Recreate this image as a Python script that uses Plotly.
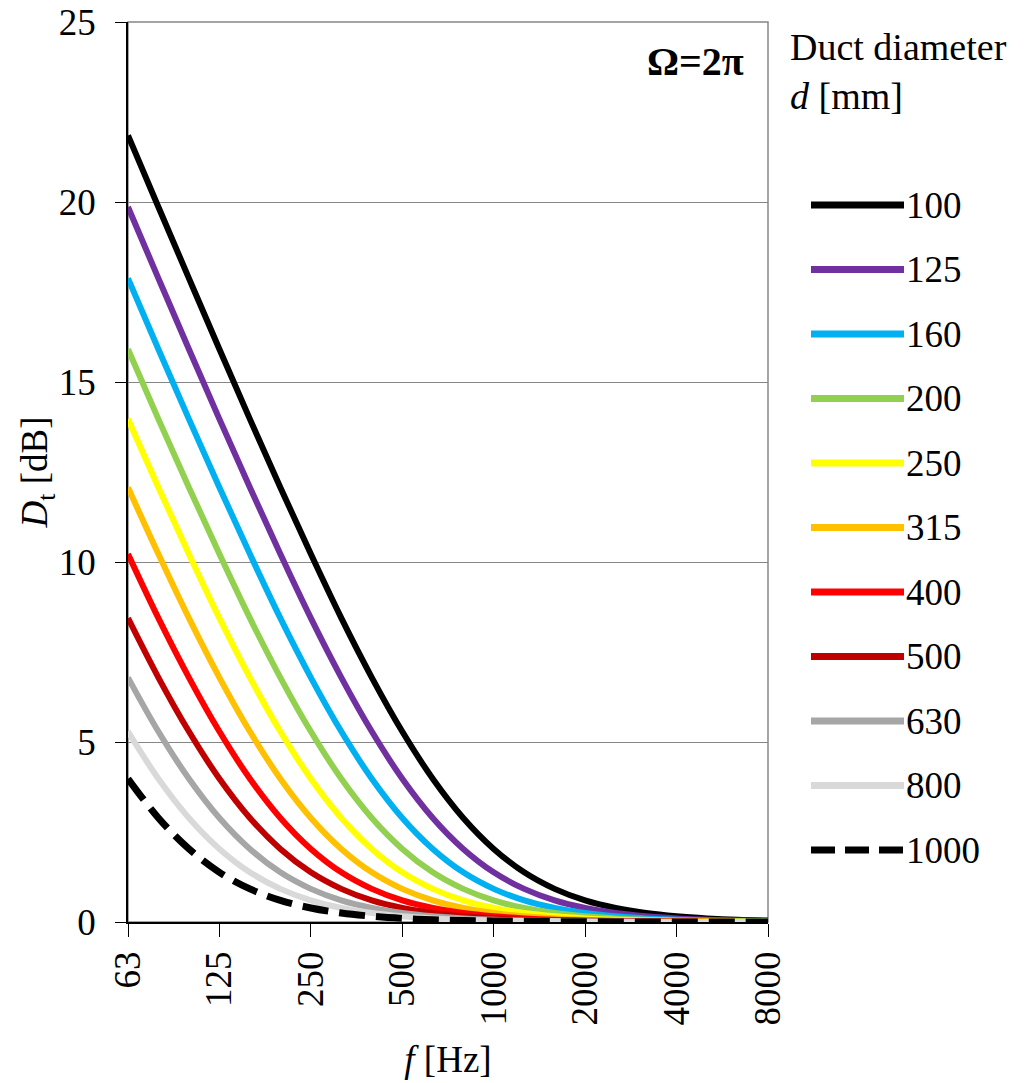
import math
import plotly.graph_objects as go

# One-third-octave centre frequencies [Hz] (base-2 series)
frequencies = [62.5, 78.7, 99.2, 125, 157.5, 198.4, 250, 315, 396.9, 500, 630,
               793.7, 1000, 1260, 1587, 2000, 2520, 3175, 4000, 5040, 6350, 8000]

# Octave-band tick positions and their labels
octave_ticks = [62.5, 125, 250, 500, 1000, 2000, 4000, 8000]
octave_labels = ["63", "125", "250", "500", "1000", "2000", "4000", "8000"]

# Duct diameters [mm]
diameters = [100, 125, 160, 200, 250, 315, 400, 500, 630, 800, 1000]

# Directivity correction D_t [dB] for a duct opening flush with a wall (Omega = 2*pi)
dt_100 = [21.85, 19.86, 17.88, 15.91, 13.97, 12.07, 10.22, 8.44, 6.79, 5.29, 3.98,
          2.89, 2.03, 1.38, 0.92, 0.60, 0.39, 0.25, 0.16, 0.10, 0.06, 0.04]
dt_125 = [19.86, 17.88, 15.91, 13.97, 12.07, 10.22, 8.44, 6.79, 5.29, 3.98, 2.89,
          2.03, 1.38, 0.92, 0.60, 0.39, 0.25, 0.16, 0.10, 0.06, 0.04, 0.03]
dt_160 = [17.88, 15.91, 13.97, 12.07, 10.22, 8.44, 6.79, 5.29, 3.98, 2.89, 2.03,
          1.38, 0.92, 0.60, 0.39, 0.25, 0.16, 0.10, 0.06, 0.04, 0.03, 0.02]
dt_200 = [15.91, 13.97, 12.07, 10.22, 8.44, 6.79, 5.29, 3.98, 2.89, 2.03, 1.38,
          0.92, 0.60, 0.39, 0.25, 0.16, 0.10, 0.06, 0.04, 0.03, 0.02, 0.01]
dt_250 = [13.97, 12.07, 10.22, 8.44, 6.79, 5.29, 3.98, 2.89, 2.03, 1.38, 0.92,
          0.60, 0.39, 0.25, 0.16, 0.10, 0.06, 0.04, 0.03, 0.02, 0.01, 0.01]
dt_315 = [12.07, 10.22, 8.44, 6.79, 5.29, 3.98, 2.89, 2.03, 1.38, 0.92, 0.60,
          0.39, 0.25, 0.16, 0.10, 0.06, 0.04, 0.03, 0.02, 0.01, 0.01, 0.00]
dt_400 = [10.22, 8.44, 6.79, 5.29, 3.98, 2.89, 2.03, 1.38, 0.92, 0.60, 0.39,
          0.25, 0.16, 0.10, 0.06, 0.04, 0.03, 0.02, 0.01, 0.01, 0.00, 0.00]
dt_500 = [8.44, 6.79, 5.29, 3.98, 2.89, 2.03, 1.38, 0.92, 0.60, 0.39, 0.25,
          0.16, 0.10, 0.06, 0.04, 0.03, 0.02, 0.01, 0.01, 0.00, 0.00, 0.00]
dt_630 = [6.79, 5.29, 3.98, 2.89, 2.03, 1.38, 0.92, 0.60, 0.39, 0.25, 0.16,
          0.10, 0.06, 0.04, 0.03, 0.02, 0.01, 0.01, 0.00, 0.00, 0.00, 0.00]
dt_800 = [5.29, 3.98, 2.89, 2.03, 1.38, 0.92, 0.60, 0.39, 0.25, 0.16, 0.10,
          0.06, 0.04, 0.03, 0.02, 0.01, 0.01, 0.00, 0.00, 0.00, 0.00, 0.00]
dt_1000 = [3.98, 2.89, 2.03, 1.38, 0.92, 0.60, 0.39, 0.25, 0.16, 0.10, 0.06,
           0.04, 0.03, 0.02, 0.01, 0.01, 0.00, 0.00, 0.00, 0.00, 0.00, 0.00]

y_ticks = [0, 5, 10, 15, 20, 25]

series = [dt_100, dt_125, dt_160, dt_200, dt_250, dt_315,
          dt_400, dt_500, dt_630, dt_800, dt_1000]
colors = ["#000000", "#7030A0", "#00B0F0", "#92D050", "#FFFF00", "#FFC000",
          "#FF0000", "#C00000", "#A6A6A6", "#D9D9D9", "#000000"]
dashed = [False] * 10 + [True]

FONT = "Liberation Serif"
FS = 37

W, H = 1024, 1083
L, R, T, B = 128, 256, 22, 161
PW, PH = W - L - R, H - T - B

fig = go.Figure()
for d, vals, col, is_dash in zip(diameters, series, colors, dashed):
    fig.add_trace(go.Scatter(
        x=frequencies, y=vals, name=str(d), mode="lines",
        line=dict(color=col, width=7 if is_dash else 6,
                  dash="26px,11px" if is_dash else "solid",
                  shape="spline", smoothing=1.0),
        showlegend=False,
    ))


def px_to_paper_x(px):
    return (px - L) / PW


def px_to_paper_y(py):
    return (H - B - py) / PH


shapes = [
    # plot-area frame (grey top and right edges)
    dict(type="rect", xref="paper", yref="paper", x0=0, x1=1, y0=0, y1=1,
         line=dict(color="#868686", width=1.5), layer="below"),
]
annotations = []

# legend drawn beside the plot: a line sample and a label per diameter
row0, row_step = 205, 64.5
for i, (d, col, is_dash) in enumerate(zip(diameters, colors, dashed)):
    yy = px_to_paper_y(row0 + i * row_step)
    shapes.append(dict(
        type="line", xref="paper", yref="paper",
        x0=px_to_paper_x(811), x1=px_to_paper_x(904), y0=yy, y1=yy,
        line=dict(color=col, width=7, dash="24px,10px" if is_dash else "solid"),
    ))
    annotations.append(dict(
        xref="paper", yref="paper", x=px_to_paper_x(904), y=yy,
        xanchor="left", yanchor="middle", showarrow=False,
        text=str(d), font=dict(family=FONT, size=FS, color="#000000"),
    ))

annotations.append(dict(
    xref="paper", yref="paper", x=px_to_paper_x(788), y=px_to_paper_y(24),
    xanchor="left", yanchor="top", align="left", showarrow=False,
    text="Duct diameter<br><i>d</i> [mm]",
    font=dict(family=FONT, size=38, color="#000000"),
))
annotations.append(dict(
    xref="paper", yref="paper", x=px_to_paper_x(746), y=px_to_paper_y(62),
    xanchor="right", yanchor="middle", showarrow=False,
    text="<b>\u03a9=2\u03c0</b>",
    font=dict(family=FONT, size=40, color="#000000"),
))

fig.update_layout(
    width=W, height=H,
    margin=dict(l=L, r=R, t=T, b=B, pad=0),
    paper_bgcolor="white", plot_bgcolor="white",
    font=dict(family=FONT, size=FS, color="#000000"),
    shapes=shapes, annotations=annotations,
    xaxis=dict(
        type="log",
        range=[math.log10(octave_ticks[0]), math.log10(octave_ticks[-1])],
        tickvals=octave_ticks, ticktext=octave_labels, automargin=False,
        showgrid=False, zeroline=False,
        showline=True, linecolor="#000000", linewidth=1.5,
        ticks="outside", ticklen=13, tickcolor="#000000", tickwidth=1.2,
        tickangle=-90, tickfont=dict(family=FONT, size=FS),
        title=dict(text="<i>f</i> [Hz]", font=dict(family=FONT, size=FS), standoff=22),
    ),
    yaxis=dict(
        range=[0, 25], tickvals=y_ticks, automargin=False,
        showgrid=True, gridcolor="#868686", gridwidth=1,
        zeroline=False,
        showline=True, linecolor="#000000", linewidth=1.5,
        ticks="outside", ticklen=11, tickcolor="#000000", tickwidth=1.2,
        tickfont=dict(family=FONT, size=FS),
        ticklabelstandoff=12,
        title=dict(text="<i>D</i><sub>t</sub> [dB]", font=dict(family=FONT, size=FS), standoff=0),
    ),
)

fig.write_html("out.html")
